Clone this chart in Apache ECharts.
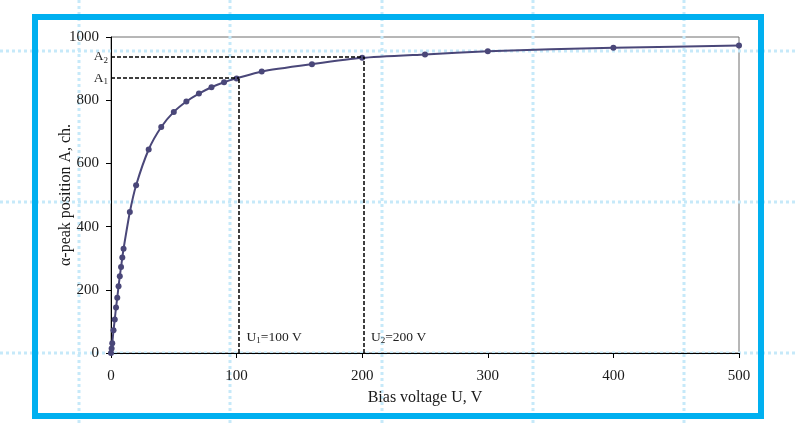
<!DOCTYPE html>
<html>
<head>
<meta charset="utf-8">
<script src="https://cdn.jsdelivr.net/npm/echarts@6/dist/echarts.min.js"></script>
<style>
  html, body { margin: 0; padding: 0; background: #fff; }
  #main { width: 798px; height: 425px; }
</style>
</head>
<body>
<div id="main"></div>
<script>
// bias voltage U, V
const voltage = [0, 0.5, 1, 2, 3, 4, 5, 6, 7, 8, 9, 10, 15, 20, 30, 40, 50, 60, 70, 80, 90, 100, 120, 160, 200, 250, 300, 400, 500]
// alpha-peak position A, ch.
const peakPos = [0, 14, 31, 72, 106, 144, 175, 211, 243, 272, 302, 330, 446, 531, 644, 715, 763, 796, 821, 841, 857, 869, 891, 914, 934, 945, 955, 966, 973]
const xTicks = [0, 100, 200, 300, 400, 500]
const yTicks = [0, 200, 400, 600, 800, 1000]
// marked working points
const markU = [102, 201]
const markA = [870, 937]

const font = 'Liberation Serif'
const dashStyle = { color: '#000', width: 1.5, type: [4, 2] }

const chart = echarts.init(document.getElementById('main'))

// light blue dotted guide lines behind the figure
const guideX = [79, 230, 382, 533, 684]
const guideY = [51, 202, 353]
const guides = []
guideX.forEach(x => {
  guides.push({ type: 'line', z: 0, shape: { x1: x, y1: 0, x2: x, y2: 425 }, style: { stroke: '#c6e9f9', lineWidth: 3, lineDash: [3, 3] } })
})
guideY.forEach(y => {
  guides.push({ type: 'line', z: 0, shape: { x1: 0, y1: y, x2: 798, y2: y }, style: { stroke: '#c6e9f9', lineWidth: 3, lineDash: [3, 3] } })
})

const subRich = {
  m: { fontFamily: font, fontSize: 13.5, color: '#222' },
  s: { fontFamily: font, fontSize: 9, color: '#222', padding: [7, 0, 0, 0] }
}

const option = {
  backgroundColor: '#fff',
  animation: false,
  graphic: guides.concat([
    {
      type: 'rect',
      z: 100,
      shape: { x: 35, y: 17, width: 726, height: 399 },
      style: { fill: 'none', stroke: '#00b0f0', lineWidth: 6 }
    }
  ]),
  grid: {
    left: 111,
    right: 59,
    top: 37,
    bottom: 72,
    show: true,
    borderColor: '#6f6f6f',
    borderWidth: 1,
    outerBoundsMode: 'none'
  },
  xAxis: {
    type: 'value',
    min: xTicks[0],
    max: xTicks[xTicks.length - 1],
    interval: 100,
    name: 'Bias voltage U, V',
    nameLocation: 'middle',
    nameGap: 37,
    nameMoveOverlap: false,
    nameTextStyle: { fontFamily: font, fontSize: 16, color: '#1a1a1a' },
    axisLine: { lineStyle: { color: '#000', width: 1 } },
    axisTick: { length: 5, lineStyle: { color: '#000' } },
    axisLabel: { margin: 16, fontFamily: font, fontSize: 15, color: '#1a1a1a', formatter: v => String(v) },
    splitLine: { show: false }
  },
  yAxis: {
    type: 'value',
    min: yTicks[0],
    max: yTicks[yTicks.length - 1],
    interval: 200,
    name: 'α-peak position A, ch.',
    nameLocation: 'middle',
    nameGap: 37,
    nameMoveOverlap: false,
    nameTextStyle: { fontFamily: font, fontSize: 16, color: '#1a1a1a' },
    axisLine: { show: true, lineStyle: { color: '#000', width: 1 } },
    axisTick: { show: true, length: 5, lineStyle: { color: '#000' } },
    axisLabel: { margin: 12, fontFamily: font, fontSize: 15, color: '#1a1a1a', formatter: v => String(v) },
    splitLine: { show: false }
  },
  series: [
    {
      type: 'line',
      data: voltage.map((v, i) => [v, peakPos[i]]),
      smooth: 0.2,
      symbol: 'circle',
      symbolSize: 6,
      lineStyle: { color: '#4a4779', width: 2 },
      itemStyle: { color: '#4a4779' },
      markLine: {
        silent: true,
        symbol: 'none',
        lineStyle: dashStyle,
        data: [
          [{ coord: [0, markA[0]], label: { show: true, position: 'start', distance: 3, formatter: '{m|A}{s|1}', rich: subRich } }, { coord: [markU[0], markA[0]] }],
          [{ coord: [0, markA[1]], label: { show: true, position: 'start', distance: 3, formatter: '{m|A}{s|2}', rich: subRich } }, { coord: [markU[1], markA[1]] }],
          [{ coord: [markU[0], 0], label: { show: false } }, { coord: [markU[0], markA[0]] }],
          [{ coord: [markU[1], 0], label: { show: false } }, { coord: [markU[1], markA[1]] }]
        ]
      },
      markPoint: {
        silent: true,
        symbol: 'circle',
        symbolSize: 1,
        itemStyle: { color: 'rgba(0,0,0,0)' },
        label: { show: true, position: 'right', distance: 7, offset: [0, -16], rich: subRich },
        data: [
          { coord: [markU[0], 0], label: { formatter: '{m|U}{s|1}{m|=100 V}' } },
          { coord: [markU[1], 0], label: { formatter: '{m|U}{s|2}{m|=200 V}' } }
        ]
      }
    }
  ]
}

chart.setOption(option)
</script>
</body>
</html>
